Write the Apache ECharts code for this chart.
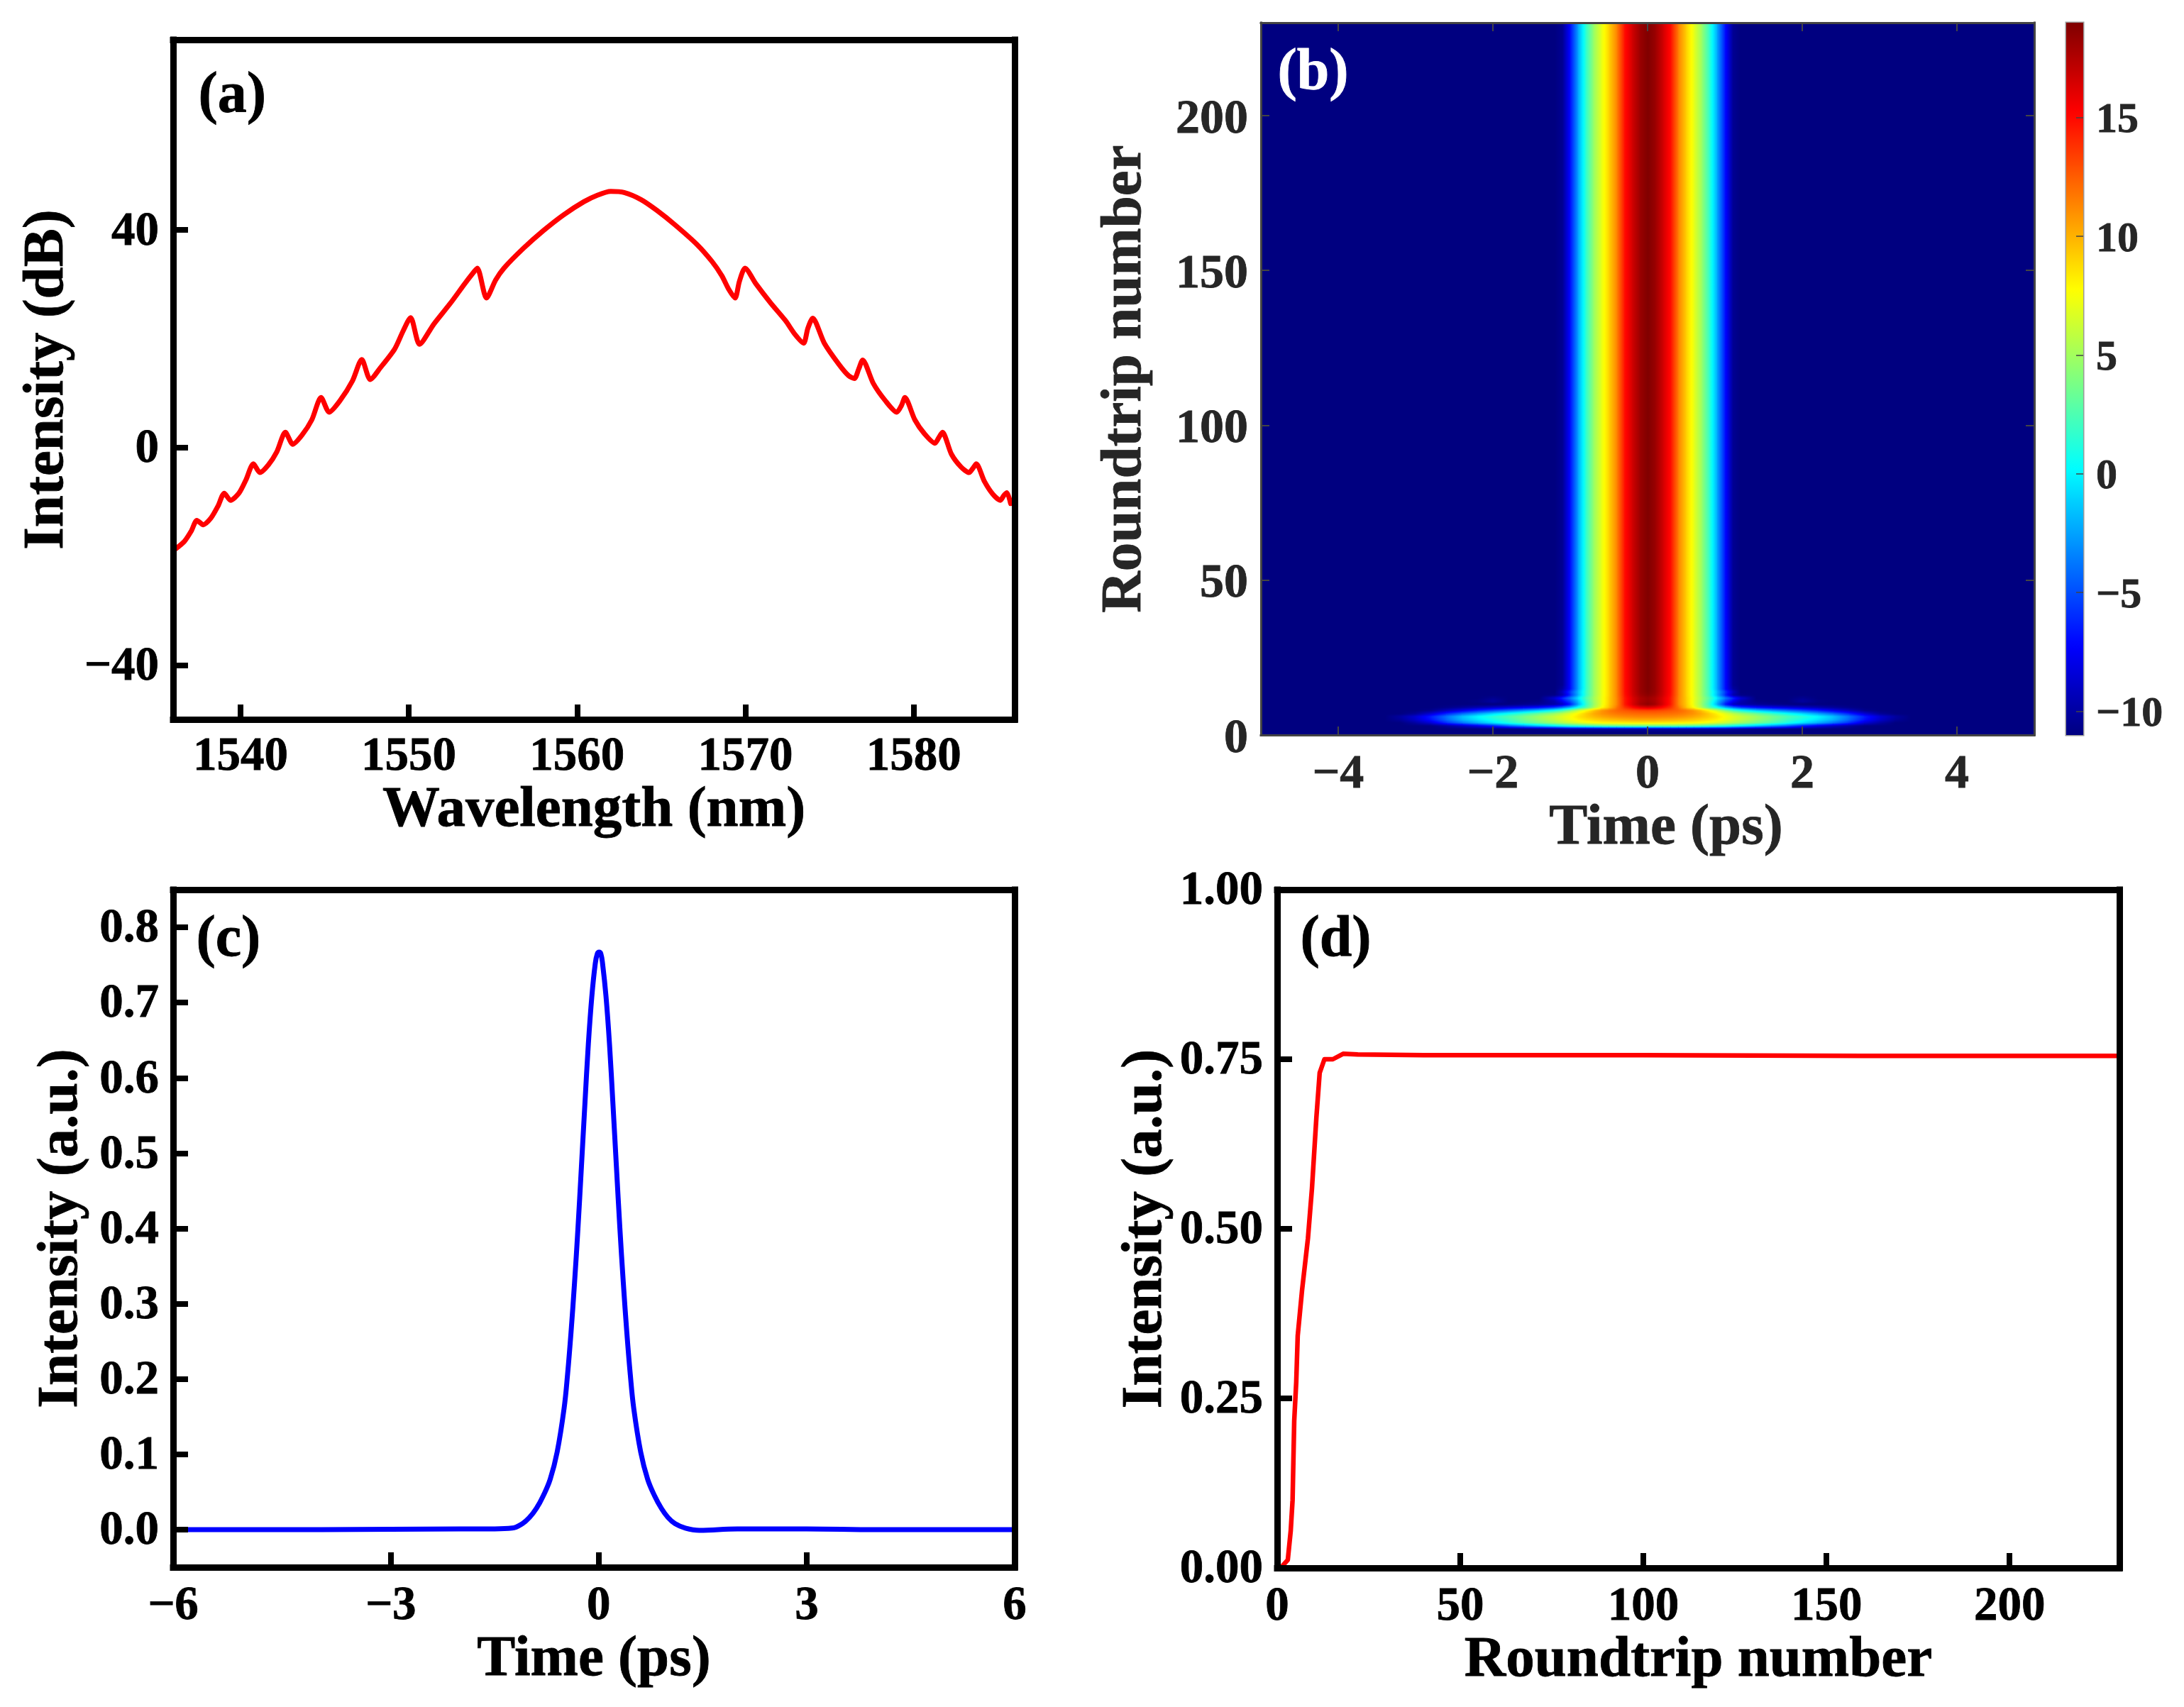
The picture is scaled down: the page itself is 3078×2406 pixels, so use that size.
<!DOCTYPE html>
<html>
<head>
<meta charset="utf-8">
<style>html,body{margin:0;padding:0;background:#fff}#c{width:3078px;height:2406px}</style>
<script src="https://cdn.jsdelivr.net/npm/echarts@6/dist/echarts.min.js"></script>
</head>
<body>
<div id="c"></div>
<script>
// ---------- panel (a) spectrum ----------
const spectrumWavelength = [1536.16,1536.66,1537.07,1537.41,1537.79,1538.24,1538.66,1539.04,1539.41,1539.91,1540.32,1540.77,1541.16,1541.66,1542.16,1542.67,1543.11,1543.66,1544.24,1544.79,1545.27,1545.91,1546.66,1547.21,1547.71,1548.32,1549.16,1549.66,1550.11,1550.64,1551.49,1552.49,1553.32,1553.82,1554.07,1554.62,1555.16,1555.66,1556.8,1558,1559.2,1560.4,1561.2,1562,1562.8,1563.8,1564.75,1565.84,1567.14,1568.02,1568.6,1569.03,1569.39,1569.64,1569.98,1570.63,1571.5,1572.37,1572.95,1573.46,1573.71,1574,1574.69,1575.56,1576.14,1576.48,1576.73,1576.97,1577.6,1578.32,1579,1579.27,1579.48,1580.07,1580.65,1581.26,1581.49,1581.71,1582.24,1582.82,1583.29,1583.52,1583.72,1584.2,1584.71,1585.15,1585.36,1585.54,1585.76];
const spectrumDb = [-18.6,-17.3,-15.4,-13.4,-14.2,-13,-10.8,-8.4,-9.7,-8.4,-6,-3,-4.6,-3.2,-0.8,2.8,0.6,2.3,5.1,9.2,6.5,8.6,12.3,16.2,12.5,14.7,18.1,21.4,23.9,19,22.7,26.6,30.1,32.1,33,27.5,30.8,33,36.6,39.9,42.8,45.2,46.4,47.1,46.9,45.6,43.6,40.9,37.3,34.2,31.6,29,27.5,30.5,33,30.1,26.6,23.4,20.8,19.2,21.9,23.8,19.2,15.3,13.2,12.7,14.4,16.1,11.8,8.6,6.5,7.7,9.2,5.1,2.5,0.8,1.8,2.8,-1.2,-3.6,-4.6,-3.8,-3,-6.2,-8.6,-9.7,-8.8,-8.3,-10.3];
const spectrumXTicks = [1540,1550,1560,1570,1580];
const spectrumYTicks = [-40,0,40];

// ---------- panel (b) evolution map: half-profile in dB (the map is mirror symmetric in time) ----------
const mapTimes = [0,.1,.2,.3,.4,.5,.6,.7,.8,.9,1,1.1,1.2,1.4,1.6,1.8,2,2.2,2.4,2.6,2.8,3,3.2,3.4,3.6];
const mapRoundtrips = [0,1,2,3,4,5,6,7,8,9,10,11,12,13,14,15,16,230];
const r0  = [-11,-11,-11,-11,-11,-11,-11,-11,-11,-11,-11,-11,-11,-11,-11,-11,-11,-11,-11,-11,-11,-11,-11,-11,-11];
const r1  = [-11,-11,-11,-11,-11,-11,-11,-11,-11,-11,-11,-11,-11,-11,-11,-11,-11,-11,-11,-11,-11,-11,-11,-11,-11];
const r2  = [-10,-10,-10,-10,-10,-10,-10,-10,-10,-10,-10,-10.3,-10.5,-10.8,-11,-11,-11,-11,-11,-11,-11,-11,-11,-11,-11];
const r3  = [3.5,3.5,3.5,3.4,3.2,3,2.7,2.4,2,1.6,1.2,.5,-.2,-1.5,-3,-4.5,-6.5,-8,-9.2,-10.2,-11,-11,-11,-11,-11];
const r4  = [8.2,8.2,8.2,8.1,8,7.9,7.8,7.5,7.1,6.6,6,5.4,4.8,3.6,2.4,1,-.6,-2.2,-4,-6,-8.5,-10,-11,-11,-11];
const r5  = [10.2,10.2,10.1,10,9.8,9.6,9.3,8.9,8.5,8,7.3,6.6,5.9,4.7,3.5,2,.8,-.5,-2,-4.2,-6.8,-8.8,-10.3,-11,-11];
const r6  = [11.4,11.4,11.3,11.2,11,10.7,10.3,9.8,9.2,8.5,7.6,6.9,6.2,5,3.8,2.6,1.5,.2,-1.5,-3.8,-6.3,-8.5,-10,-11,-11];
const r7  = [12.2,12.2,12.1,12,11.8,11.4,10.9,10.2,9.2,8,7,5.8,4.8,3.4,2,.6,-.8,-2.5,-4.2,-6.2,-8.5,-10.3,-11,-11,-11];
const r8  = [13.3,13.2,13,12.7,12.3,11.7,10.8,9.5,7.8,6.2,4.2,2.4,1,-1,-2.5,-3.8,-5,-6.3,-7.8,-9.2,-10.6,-11,-11,-11,-11];
const r9  = [16.5,16,15,13.8,11.8,9.5,7.5,5.2,2.5,.5,-2,-4,-5.5,-7,-7.8,-8.4,-9,-9.6,-10.2,-10.7,-11,-11,-11,-11,-11];
const r10 = [18.6,17.9,16.3,14.5,11.3,9.3,7,4.6,1.6,-2.4,-6.5,-9,-9.8,-10.3,-10.6,-10.9,-11,-11,-11,-11,-11,-11,-11,-11,-11];
const r11 = [18.3,17.7,16.2,14.5,11.3,9.2,7,4.8,2,-1.6,-5,-7.5,-9.5,-10.8,-11,-11,-10,-10.8,-11,-11,-11,-11,-11,-11,-11];
const r12 = [18.2,17.6,16.2,14.5,11.3,9.2,7.1,5,2.5,-.5,-3.5,-6,-8.5,-11,-11,-11,-10.5,-11,-11,-11,-11,-11,-11,-11,-11];
const r13 = [18.7,18,16.5,14.7,11.4,9.1,7,4.7,1.7,-2,-6,-9.5,-10.8,-11,-11,-11,-11,-11,-11,-11,-11,-11,-11,-11,-11];
const r14 = [18.9,18.2,16.6,14.8,11.4,9.1,7,4.7,1.8,-1.8,-5.5,-9,-11,-11,-11,-11,-11,-11,-11,-11,-11,-11,-11,-11,-11];
const r15 = [19,18.2,16.6,14.8,11.4,9.1,7,4.7,1.6,-2.4,-6.8,-10,-11,-11,-11,-11,-11,-11,-11,-11,-11,-11,-11,-11,-11];
const r16 = [19,18.2,16.6,14.8,11.4,9.1,7,4.7,1.6,-2.4,-6.8,-10.3,-11,-11,-11,-11,-11,-11,-11,-11,-11,-11,-11,-11,-11];
const r230= [19,18.2,16.6,14.8,11.4,9.1,7,4.7,1.6,-2.4,-6.8,-10.5,-11,-11,-11,-11,-11,-11,-11,-11,-11,-11,-11,-11,-11];
const mapRows = [r0,r1,r2,r3,r4,r5,r6,r7,r8,r9,r10,r11,r12,r13,r14,r15,r16,r230];
const mapXTicks = [-4,-2,0,2,4];
const mapYTicks = [0,50,100,150,200];
const colorbarTicks = [-10,-5,0,5,10,15];
const colorbarLevels = [-11,-9,-7,-5,-3,-1,1,3,5,7,9,11,13,15,17,19];

// ---------- panel (c) pulse ----------
const pulseTime = [-6.14,-4,-2,-1.5,-1.25,-1.1,-1,-.9,-.8,-.7,-.6,-.5,-.45,-.4,-.35,-.3,-.25,-.2,-.15,-.1,-.05,-.02,.005,.03,.055,.105,.155,.205,.255,.305,.355,.405,.455,.505,.605,.705,.805,.905,1,1.1,1.25,1.45,2,3,4,6];
const pulseValue = [0,0,.001,.001,.002,.008,.016,.028,.045,.067,.103,.161,.206,.262,.327,.4,.482,.565,.645,.708,.752,.765,.767,.765,.752,.708,.645,.565,.482,.4,.327,.262,.206,.161,.103,.067,.045,.028,.016,.008,.002,-.001,.001,.001,0,0];
const pulseXTicks = [-6.14,-3,0,3,6];
const pulseYTicks = [0,.1,.2,.3,.4,.5,.6,.7,.8];

// ---------- panel (d) peak evolution ----------
const peakRoundtrip = [1,1.6,2.9,3.7,4.2,4.65,5.2,5.6,6.8,8.4,9.5,10.7,11.6,12.9,15.2,18,22,40,100,160,230];
const peakValue = [0,.004,.012,.055,.1,.217,.274,.342,.41,.486,.56,.664,.73,.75,.75,.758,.757,.756,.756,.755,.755];
const peakXTicks = [0,50,100,150,200];
const peakYTicks = [0,.25,.5,.75,1];

// ---------- helpers ----------
const FF = '"Liberation Serif"';
const minus = s => String(s).replace('-', '\u2212');
function jet(v) {
  const t = Math.max(0, Math.min(1, (v + 11) / 30));
  const f = (a) => Math.round(255 * Math.max(0, Math.min(1, 1.5 - Math.abs(4 * t - a))));
  return `rgb(${f(3)},${f(2)},${f(1)})`;
}
const gradStops = (a, b) => [0, .2, .4, .6, .8, 1].map(o => ({offset: o, color: jet(a + (b - a) * o)}));

const xAxes = [], yAxes = [];
function droppedLabel(vals, fmt, margin, size, color, drop) {
  const font = {fontFamily: FF, fontWeight: 'bold', fontSize: size, color, textBorderColor: color, textBorderWidth: .8};
  return {show: true, customValues: vals, margin, hideOverlap: false, ...font,
    formatter: v => `{d|${fmt(v)}}`, rich: {d: {...font, padding: [drop, 0, 0, 0]}}};
}
function frameAxes(o) {
  const gi = o.grid;
  const lw = o.lineWidth, col = o.lineColor, tc = o.textColor;
  const xi = xAxes.length, yi = yAxes.length;
  const line = {show: true, onZero: false, lineStyle: {color: col, width: lw, cap: 'square'}};
  const tick = {show: true, inside: true, length: o.tickLen, lineStyle: {color: col, width: o.tickWidth}};
  const lab = (vals, fmt, margin, size) => ({show: true, customValues: vals, formatter: fmt, margin,
    fontFamily: FF, fontWeight: 'bold', fontSize: size, color: tc, hideOverlap: false, textBorderColor: tc, textBorderWidth: .8});
  const nameStyle = (pad) => ({fontFamily: FF, fontWeight: 'bold', fontSize: 81, color: tc, padding: pad || 0, textBorderColor: tc, textBorderWidth: .8});
  xAxes.push({type: 'value', gridIndex: gi, position: 'bottom', min: o.x[0], max: o.x[1], z: 10,
    name: o.xName, nameLocation: 'middle', nameGap: o.xGap, nameTextStyle: nameStyle(o.xPad),
    axisLine: line, splitLine: {show: false}, axisTick: {...tick, customValues: o.xTicks},
    axisLabel: lab(o.xTicks, o.xFmt, o.xMargin, o.labelSize)});
  xAxes.push({type: 'value', gridIndex: gi, position: 'top', min: o.x[0], max: o.x[1], z: 10,
    axisLine: line, splitLine: {show: false},
    axisTick: o.mirror ? {...tick, customValues: o.xTicks} : {show: false}, axisLabel: {show: false}});
  yAxes.push({type: 'value', gridIndex: gi, position: 'left', min: o.y[0], max: o.y[1], z: 10,
    name: o.yName, nameLocation: 'middle', nameGap: o.yGap, nameRotate: 90, nameTextStyle: nameStyle(),
    axisLine: line, splitLine: {show: false}, axisTick: {...tick, customValues: o.yTicks},
    axisLabel: droppedLabel(o.yTicks, o.yFmt, o.yMargin, o.labelSize, tc, o.labelDrop)});
  yAxes.push({type: 'value', gridIndex: gi, position: 'right', min: o.y[0], max: o.y[1], z: 10,
    axisLine: line, splitLine: {show: false},
    axisTick: o.mirror ? {...tick, customValues: o.yTicks} : {show: false}, axisLabel: {show: false}});
  return {xi, yi};
}
const heavy = {lineWidth: 9, lineColor: '#000', textColor: '#000', tickLen: 21, tickWidth: 8, labelSize: 67, labelDrop: 6};

const grids = [
  {left: 244, top: 56, width: 1186, height: 958, show: false},
  {left: 1777, top: 32, width: 1090, height: 1004, show: false},
  {left: 2912, top: 32, width: 24, height: 1004, show: true, backgroundColor: 'transparent', borderColor: '#999', borderWidth: 3},
  {left: 244, top: 1254, width: 1186, height: 955, show: false},
  {left: 1800, top: 1254, width: 1187, height: 956, show: false}
];

const A = frameAxes({...heavy, grid: 0, x: [1536, 1586], y: [-50, 75], xTicks: spectrumXTicks, yTicks: spectrumYTicks,
  xFmt: v => String(v), yFmt: v => minus(v), xMargin: 20, yMargin: 20,
  xName: 'Wavelength (nm)', yName: 'Intensity (dB)', xGap: 80, yGap: 136});
const B = frameAxes({lineWidth: 3, lineColor: '#444', textColor: '#262626', tickLen: 12, tickWidth: 2, labelSize: 68, labelDrop: 12,
  mirror: true, grid: 1, x: [-5, 5], y: [0, 230], xTicks: mapXTicks, yTicks: mapYTicks,
  xFmt: v => minus(v), yFmt: v => String(v), xMargin: 22, yMargin: 18,
  xName: 'Time (ps)', yName: 'Roundtrip number', xGap: 82, yGap: 150, xPad: [0, 0, 0, 52]});
// colourbar axes
const cbX = xAxes.length, cbY = yAxes.length;
xAxes.push({type: 'value', gridIndex: 2, min: 0, max: 1, show: false});
yAxes.push({type: 'value', gridIndex: 2, position: 'right', min: -11, max: 19, z: 10,
  axisLine: {show: false, onZero: false}, splitLine: {show: false},
  axisTick: {show: true, inside: true, length: 10, lineStyle: {color: '#444', width: 1.5}, customValues: colorbarTicks},
  axisLabel: droppedLabel(colorbarTicks, v => minus(v), 18, 60, '#262626', 10)});
const C = frameAxes({...heavy, grid: 3, x: [-6.14, 6], y: [-.05, .85], xTicks: pulseXTicks, yTicks: pulseYTicks,
  xFmt: v => minus(Math.round(v)), yFmt: v => v.toFixed(1), xMargin: 22, yMargin: 20,
  xName: 'Time (ps)', yName: 'Intensity (a.u.)', xGap: 80, yGap: 116});
const D = frameAxes({...heavy, grid: 4, x: [0, 230], y: [0, 1], xTicks: peakXTicks, yTicks: peakYTicks,
  xFmt: v => String(v), yFmt: v => v.toFixed(2), xMargin: 22, yMargin: 20,
  xName: 'Roundtrip number', yName: 'Intensity (a.u.)', xGap: 90, yGap: 144});

// map cells from the read matrix, mirrored in time
const mirroredTimes = mapTimes.slice(1).reverse().map(t => -t).concat(mapTimes);
const mirrored = row => row.slice(1).reverse().concat(row);
const mapCells = [];
for (let r = 0; r < mapRoundtrips.length - 1; r++) {
  const lo = mirrored(mapRows[r]), hi = mirrored(mapRows[r + 1]);
  for (let c = 0; c < mirroredTimes.length - 1; c++) {
    mapCells.push([mirroredTimes[c], mirroredTimes[c + 1], mapRoundtrips[r], mapRoundtrips[r + 1], lo[c], lo[c + 1], hi[c], hi[c + 1]]);
  }
}
// outer dark-blue background band reaching the axis limits
const bgCells = [[-5, 5, 0, 230, -11, -11, -11, -11]];

function renderCell(params, api) {
  const t0 = api.value(0), t1 = api.value(1), n0 = api.value(2), n1 = api.value(3);
  const a = api.value(4), b = api.value(5), c = api.value(6), d = api.value(7);
  const strips = (n1 - n0) > 5 || (a === b && b === c && c === d) ? 1 : 4;
  const children = [];
  for (let i = 0; i < strips; i++) {
    const f0 = i / strips, f1 = (i + 1) / strips, fm = (f0 + f1) / 2;
    const p0 = api.coord([t0, n0 + (n1 - n0) * f1]);
    const p1 = api.coord([t1, n0 + (n1 - n0) * f0]);
    const L = a + (c - a) * fm, R = b + (d - b) * fm;
    const fill = L === R ? jet(L) : new echarts.graphic.LinearGradient(0, 0, 1, 0, gradStops(L, R));
    children.push({type: 'rect', shape: {x: p0[0], y: p0[1] - .6, width: p1[0] - p0[0] + .8, height: p1[1] - p0[1] + 1},
      style: {fill}, silent: true});
  }
  return {type: 'group', children};
}
function renderBar(params, api) {
  const p0 = api.coord([0, api.value(1)]), p1 = api.coord([1, api.value(0)]);
  return {type: 'rect', shape: {x: p0[0], y: p0[1], width: p1[0] - p0[0], height: p1[1] - p0[1] + .8},
    style: {fill: new echarts.graphic.LinearGradient(0, 1, 0, 0, gradStops(api.value(0), api.value(1)))}, silent: true};
}
const barCells = colorbarLevels.slice(0, -1).map((v, i) => [v, colorbarLevels[i + 1]]);
const zip = (x, y) => x.map((v, i) => [v, y[i]]);
const lineSeries = (ax, xs, ys, color, width, smooth) => ({type: 'line', xAxisIndex: ax.xi, yAxisIndex: ax.yi, data: zip(xs, ys),
  showSymbol: false, smooth: smooth, lineStyle: {color, width, join: 'round', cap: 'round'}, clip: true, z: 3, silent: true});

const panelLabel = (t, x, y, fill) => ({type: 'text', left: x, top: y, z: 20, silent: true,
  style: {text: t, fontFamily: FF, fontWeight: 'bold', fontSize: 82, fill, stroke: fill, lineWidth: .8}});

const chart = echarts.init(document.getElementById('c'), null, {renderer: 'canvas', devicePixelRatio: 1});
chart.setOption({
  animation: false, backgroundColor: '#fff',
  grid: grids, xAxis: xAxes, yAxis: yAxes,
  series: [
    lineSeries(A, spectrumWavelength, spectrumDb, '#ff0000', 7, .25),
    {type: 'custom', xAxisIndex: B.xi, yAxisIndex: B.yi, data: bgCells, renderItem: renderCell, encode: {x: [0, 1], y: [2, 3]}, z: 1, silent: true, clip: true, progressive: 0},
    {type: 'custom', xAxisIndex: B.xi, yAxisIndex: B.yi, data: mapCells, renderItem: renderCell, encode: {x: [0, 1], y: [2, 3]}, z: 2, silent: true, clip: true, progressive: 0},
    {type: 'custom', xAxisIndex: cbX, yAxisIndex: cbY, data: barCells, renderItem: renderBar, encode: {y: [0, 1]}, z: 2, silent: true, clip: true, progressive: 0},
    lineSeries(C, pulseTime, pulseValue, '#0000ff', 7, .4),
    lineSeries(D, peakRoundtrip, peakValue, '#ff0000', 6.5, false)
  ],
  graphic: {elements: [
    panelLabel('(a)', 279, 95, '#000'),
    panelLabel('(b)', 1800, 62, '#fff'),
    panelLabel('(c)', 276, 1284, '#000'),
    panelLabel('(d)', 1832, 1284, '#000')
  ]}
});
</script>
</body>
</html>
